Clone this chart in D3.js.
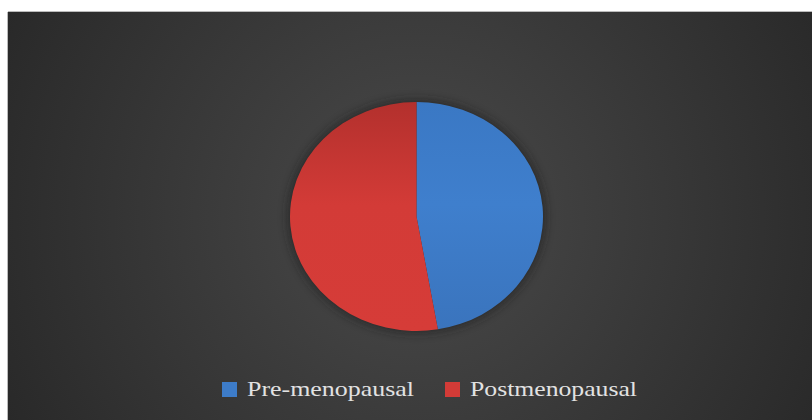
<!DOCTYPE html>
<html>
<head>
<meta charset="utf-8">
<script src="https://cdn.jsdelivr.net/npm/d3@7"></script>
<style>
  html, body { margin: 0; padding: 0; background: #fff; }
  svg { display: block; }
</style>
</head>
<body>
<svg id="chart" width="812" height="420"></svg>
<script>
// values (share of patients, %)
const categories = ["Pre-menopausal", "Postmenopausal"];
const shares = [47.3, 52.7];
const colors = ["#3d7cc9", "#d33b37"];

const width = 812, height = 420;
const panel = { left: 8, top: 12 };
const cx = 416.5, cy = 216.5;
const rx = 126.5, ry = 114.5;

const svg = d3.select("#chart");
const defs = svg.append("defs");

// background radial gradient
const bg = defs.append("radialGradient")
  .attr("id", "bg")
  .attr("gradientUnits", "userSpaceOnUse")
  .attr("cx", cx).attr("cy", cy).attr("r", 470);
bg.append("stop").attr("offset", "0%").attr("stop-color", "#4a4a4a");
bg.append("stop").attr("offset", "100%").attr("stop-color", "#282828");

// slice shading
const shade = [
  ["#3a78c4", "#3f7fcd", "#3a74bd"],
  ["#b3302d", "#d33b37", "#d63c38"]
];
shade.forEach((s, i) => {
  const g = defs.append("linearGradient")
    .attr("id", "slice" + i)
    .attr("x1", 0).attr("y1", 0).attr("x2", 0).attr("y2", 1);
  g.append("stop").attr("offset", "0%").attr("stop-color", s[0]);
  g.append("stop").attr("offset", "45%").attr("stop-color", s[1]);
  g.append("stop").attr("offset", "100%").attr("stop-color", s[2]);
});

const shadow = defs.append("filter").attr("id", "shadow")
  .attr("x", "-20%").attr("y", "-20%").attr("width", "140%").attr("height", "140%");
shadow.append("feGaussianBlur").attr("stdDeviation", 4);

// white page border + dark panel
svg.append("rect")
  .attr("x", panel.left).attr("y", panel.top)
  .attr("width", width - panel.left).attr("height", height - panel.top)
  .attr("fill", "url(#bg)");
svg.append("line")
  .attr("x1", panel.left).attr("x2", width).attr("y1", panel.top - 0.5).attr("y2", panel.top - 0.5)
  .attr("stroke", "#bbb");
svg.append("line")
  .attr("x1", panel.left - 0.5).attr("x2", panel.left - 0.5).attr("y1", panel.top).attr("y2", height)
  .attr("stroke", "#bbb");

const pie = d3.pie().sort(null).value(d => d)(shares);
const arc = d3.arc().innerRadius(0).outerRadius(ry);

const pieG = svg.append("g")
  .attr("transform", `translate(${cx},${cy}) scale(${rx / ry},1)`);

pieG.append("circle")
  .attr("r", ry + 3)
  .attr("fill", "#1e1e1e")
  .attr("opacity", 0.55)
  .attr("filter", "url(#shadow)");

pieG.selectAll("path.slice")
  .data(pie)
  .join("path")
  .attr("class", "slice")
  .attr("d", arc)
  .attr("fill", (d, i) => `url(#slice${i})`);

// legend
const legendX = [222, 445];
const legendW = [167, 167];
const legend = svg.append("g").selectAll("g")
  .data(categories)
  .join("g")
  .attr("transform", (d, i) => `translate(${legendX[i]},382)`);

legend.append("rect")
  .attr("width", 15).attr("height", 15)
  .attr("fill", (d, i) => colors[i]);

legend.append("text")
  .attr("x", 25).attr("y", 14)
  .attr("font-family", "'Liberation Serif', 'DejaVu Serif', serif")
  .attr("font-size", 21)
  .attr("fill", "#e2e2e2")
  .attr("textLength", (d, i) => legendW[i])
  .attr("lengthAdjust", "spacingAndGlyphs")
  .text(d => d);
</script>
</body>
</html>
